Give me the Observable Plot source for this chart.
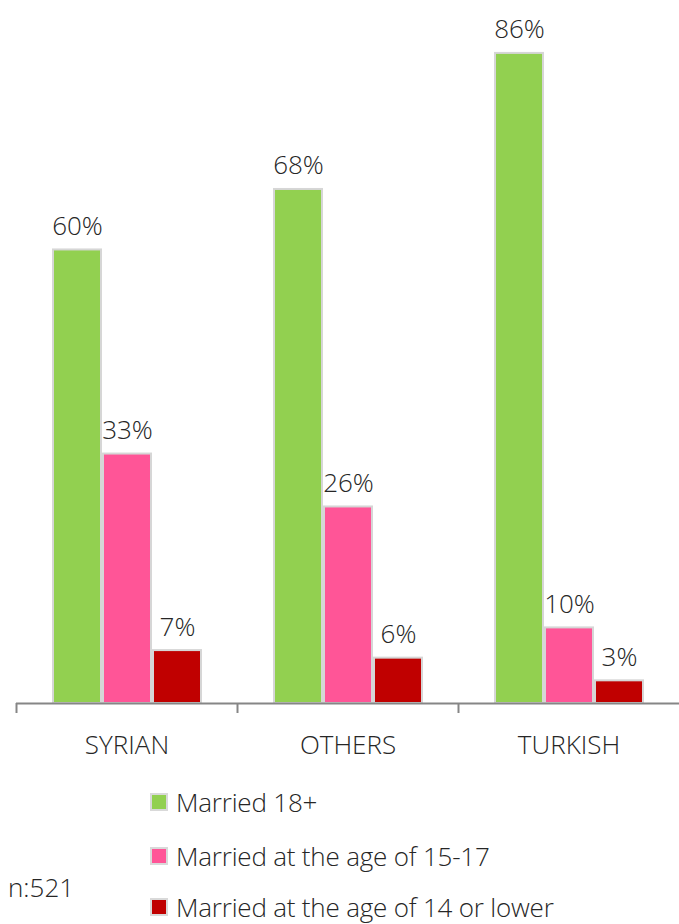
<!DOCTYPE html>
<html>
<head>
<meta charset="utf-8">
<script src="https://cdn.jsdelivr.net/npm/d3@7"></script>
<script src="https://cdn.jsdelivr.net/npm/@observablehq/plot@0.6"></script>
<style>
  body { margin: 0; background: #fff; font-family: "Open Sans", sans-serif; }
  #wrap { position: relative; width: 679px; height: 924px; }
  #chart { position: absolute; left: 0; top: 0; }
  .leg { position: absolute; left: 150px; display: flex; align-items: center; font-size: 26px; font-weight: 300; color: #262626; white-space: nowrap; letter-spacing: -0.2px; }
  .sw { width: 14px; height: 14px; border: 2px solid #d9d9d9; margin-right: 8px; }
  #n { position: absolute; left: 8px; top: 869px; font-size: 26px; font-weight: 300; color: #262626; }
</style>
</head>
<body>
<div id="wrap">
  <div id="chart"></div>
  <div id="legend"></div>
  <div id="n"></div>
</div>
<script>
const groups = ["SYRIAN", "OTHERS", "TURKISH"];
const seriesNames = ["Married 18+", "Married at the age of 15-17", "Married at the age of 14 or lower"];
const married18 = [0.60, 0.68, 0.86];
const married1517 = [0.33, 0.26, 0.10];
const married14 = [0.07, 0.06, 0.03];
const colors = ["#92d050", "#ff5597", "#c00000"];
const sampleNote = "n:521";

const seriesValues = [married18, married1517, married14];
const data = [];
groups.forEach((g, gi) => {
  seriesNames.forEach((s, si) => {
    data.push({group: g, series: s, value: seriesValues[si][gi]});
  });
});

const W = 679, marginLeft = 16, marginRight = 0;
const facetW = (W - marginLeft - marginRight) / groups.length;

const chart = Plot.plot({
  width: W,
  height: 770,
  marginTop: 0,
  marginBottom: 67,
  marginLeft,
  marginRight,
  style: {fontFamily: "'Open Sans', sans-serif", background: "transparent"},
  fx: {domain: groups, padding: 0, axis: null},
  x: {domain: seriesNames, axis: null, paddingInner: 0.04, paddingOuter: 0.71},
  y: {domain: [0, 0.93], axis: null},
  color: {domain: seriesNames, range: colors},
  marks: [
    Plot.barY(data, {fx: "group", x: "series", y: "value", fill: "series", stroke: "#d6d6d6", strokeWidth: 2}),
    Plot.text(data, {fx: "group", x: "series", y: "value", text: d => Math.round(d.value * 100) + "%",
      lineAnchor: "bottom", dy: -15, fontSize: 26, fontWeight: 300, fill: "#262626"}),
    Plot.ruleY([0], {stroke: "#868686", strokeWidth: 2}),
    Plot.axisFx({anchor: "bottom", text: null, label: null, tickSize: 10, dx: -facetW / 2, stroke: "#868686", strokeWidth: 2}),
    Plot.axisFx({anchor: "bottom", label: null, tickSize: 0, tickPadding: 32, fontSize: 26, fontWeight: 300, fill: "#262626"})
  ]
});
document.getElementById("chart").appendChild(chart);

const legend = document.getElementById("legend");
const legendTops = [784, 838, 889];
seriesNames.forEach((s, i) => {
  const d = document.createElement("div");
  d.className = "leg";
  d.style.top = legendTops[i] + "px";
  const sw = document.createElement("span");
  sw.className = "sw";
  sw.style.background = colors[i];
  const t = document.createElement("span");
  t.textContent = s;
  d.appendChild(sw);
  d.appendChild(t);
  legend.appendChild(d);
});
document.getElementById("n").textContent = sampleNote;
</script>
</body>
</html>
